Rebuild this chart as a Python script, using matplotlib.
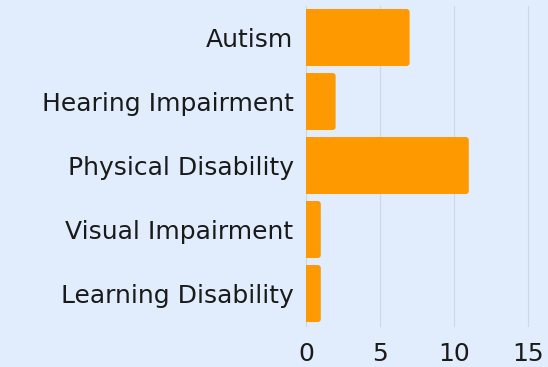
import matplotlib.pyplot as plt
from matplotlib.patches import FancyBboxPatch

categories = ["Autism", "Hearing Impairment", "Physical Disability",
              "Visual Impairment", "Learning Disability"]
counts = [7, 2, 11, 1, 1]
xticks = [0, 5, 10, 15]

bg = "#e1edfc"
bar_color = "#ff9900"

plt.rcParams['font.family'] = ['DejaVu Sans']

fig = plt.figure(figsize=(5.48, 3.67), dpi=100, facecolor=bg)
ax = fig.add_axes([0.5584, 0.113, 0.4051, 0.872], facecolor=bg)

ypos = range(len(categories))
bars = ax.barh(ypos, counts, height=0.89, color=bar_color, zorder=3)

ax.set_ylim(len(categories) - 0.5, -0.5)
ax.set_xlim(0, 15)

# rounded ends: swap each plain bar for a rounded box, left end hidden past 0
x_px = ax.get_position().width * fig.bbox.width / 15
y_px = ax.get_position().height * fig.bbox.height / len(categories)
rad = 3 / x_px
for b in bars:
    b.set_visible(False)
    x0, y0 = b.get_x(), b.get_y()
    w, h = b.get_width(), b.get_height()
    p = FancyBboxPatch((x0 - rad, y0), w + rad, h,
                       boxstyle="round,pad=0,rounding_size=%f" % rad,
                       mutation_aspect=x_px / y_px,
                       facecolor=bar_color, edgecolor='none', zorder=3)
    ax.add_patch(p)

ax.set_yticks(list(ypos))
ax.set_yticklabels(categories)
ax.set_xticks(xticks)
ax.set_xticklabels([str(t) for t in xticks])

ax.grid(axis='x', color='#cdd8e4', linewidth=0.8, zorder=0)
for line in ax.get_xgridlines():
    line.set_clip_on(False)
for s in ax.spines.values():
    s.set_visible(False)
ax.tick_params(axis='both', length=0, labelsize=18, colors='#1a1a1a')
ax.tick_params(axis='y', pad=9)
ax.tick_params(axis='x', pad=12)

fig.savefig("out.png", dpi=100, facecolor=bg)
